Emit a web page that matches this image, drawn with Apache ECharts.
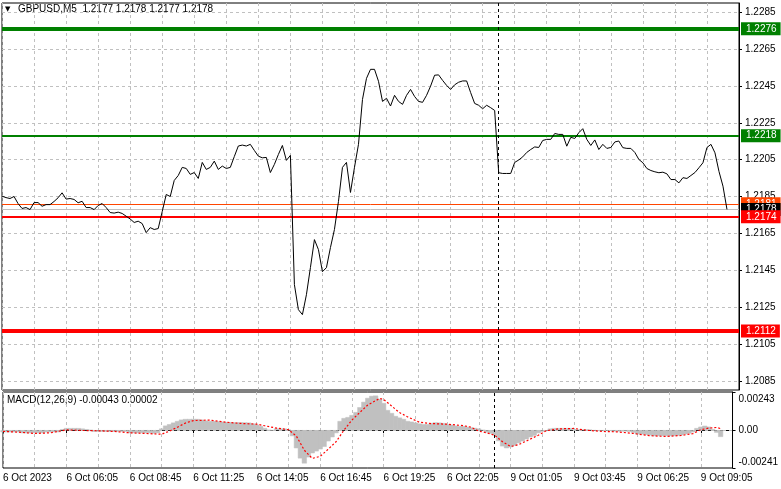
<!DOCTYPE html>
<html>
<head>
<meta charset="utf-8">
<script src="https://cdn.jsdelivr.net/npm/echarts@6/dist/echarts.min.js"></script>
<style>html,body{margin:0;padding:0;background:#fff}#c{width:781px;height:489px}</style>
</head>
<body>
<div id="c"></div>
<script>
// ---------- data ----------
const titleText = 'GBPUSD,M5  1.2177 1.2178 1.2177 1.2178';
const macdText = 'MACD(12,26,9) -0.00043 0.00002';
// time labels (every 32 five-minute bars = every 16 ten-minute categories)
const xLabels = ['6 Oct 2023','6 Oct 06:05','6 Oct 08:45','6 Oct 11:25','6 Oct 14:05','6 Oct 16:45',
  '6 Oct 19:25','6 Oct 22:05','9 Oct 01:05','9 Oct 03:45','9 Oct 06:25','9 Oct 09:05'];
const priceTicks = [1.2085,1.2105,1.2125,1.2145,1.2165,1.2185,1.2205,1.2225,1.2245,1.2265,1.2285];
const macdTicks = [0.00243, 0, -0.00241];
// close prices, one every 10 minutes
const closes = [
1.21852,1.21844,1.21839,1.21850,1.21812,1.21785,1.21790,1.21779,1.21817,1.21817,
1.21797,1.21806,1.21806,1.21823,1.21843,1.21870,1.21836,1.21839,1.21834,1.21816,
1.21824,1.21790,1.21790,1.21779,1.21801,1.21812,1.21790,1.21763,1.21760,1.21765,
1.21758,1.21743,1.21728,1.21709,1.21716,1.21703,1.21654,1.21681,1.21671,1.21676,
1.21768,1.21861,1.21850,1.21937,1.21964,1.22008,1.22002,1.21970,1.21980,1.21948,
1.22035,1.21997,1.22008,1.22042,1.21997,1.22015,1.22002,1.22008,1.22067,1.22124,
1.22129,1.22124,1.22133,1.22100,1.22069,1.22060,1.22062,1.21980,1.22024,1.22078,
1.22127,1.22046,1.22073,1.21372,1.21236,1.21209,1.21317,1.21464,1.21616,1.21562,
1.21442,1.21464,1.21573,1.21671,1.21823,1.22008,1.22035,1.21872,1.22008,1.22133,
1.22377,1.22491,1.22540,1.22540,1.22475,1.22366,1.22383,1.22341,1.22399,1.22366,
1.22350,1.22399,1.22431,1.22393,1.22366,1.22361,1.22399,1.22449,1.22508,1.22510,
1.22480,1.22453,1.22431,1.22456,1.22470,1.22477,1.22477,1.22414,1.22355,1.22345,
1.22326,1.22345,1.22332,1.22317,1.21979,1.21975,1.21975,1.21975,1.22035,1.22048,
1.22065,1.22089,1.22105,1.22119,1.22116,1.22154,1.22160,1.22160,1.22192,1.22187,
1.22187,1.22123,1.22171,1.22165,1.22196,1.22218,1.22160,1.22127,1.22157,1.22105,
1.22133,1.22111,1.22116,1.22146,1.22151,1.22115,1.22111,1.22111,1.22089,1.22051,
1.22033,1.22002,1.21991,1.21984,1.21979,1.21982,1.21973,1.21942,1.21942,1.21924,
1.21952,1.21948,1.21964,1.21980,1.22006,1.22033,1.22116,1.22133,1.22087,1.21986,
1.21906,1.21780];
// MACD histogram, one every 10 minutes
const macdHist = [
-0.00013,-0.00013,-0.00013,-0.00013,-0.00013,-0.00019,-0.00019,-0.00019,-0.00019,-0.00019,
-0.00019,-0.00013,-0.00013,-0.00013,-0.00013,0.00006,0.00013,0.00013,0.00013,0.00013,
0.0001,0.00006,0,-0.0001,-0.0001,-0.0001,-0.0001,-0.0001,-0.0001,-0.0001,
-0.0001,-0.0001,-0.00019,-0.00019,-0.00019,-0.00019,-0.00019,-0.00019,-0.00022,-0.00019,
0.0001,0.00029,0.00038,0.00048,0.00058,0.00067,0.00071,0.00071,0.00071,0.00071,
0.00067,0.00061,0.00058,0.00058,0.00056,0.00054,0.00051,0.00051,0.00049,0.00049,
0.00049,0.00049,0.00048,0.00042,0.00035,0.00026,0.00013,0,-0.00003,0.00011,
0.0001,0.0001,0.00003,-0.00038,-0.00115,-0.0018,-0.00212,-0.00173,-0.00147,-0.00135,
-0.00122,-0.00106,-0.00071,-0.00045,-0.00019,0.00058,0.00077,0.00083,0.00096,0.00115,
0.00146,0.0018,0.00205,0.00218,0.0022,0.00199,0.00173,0.00128,0.00109,0.0009,
0.0008,0.00071,0.00058,0.00054,0.00048,0.00042,0.00038,0.00038,0.00045,0.00049,
0.00048,0.00045,0.00038,0.00035,0.00029,0.00026,0.00026,0.00021,0.00017,0.00014,
0.0001,0,-0.00015,-0.00022,-0.00032,-0.00069,-0.00103,-0.00115,-0.00109,-0.00099,
-0.00083,-0.00071,-0.00058,-0.00045,-0.00035,-0.00019,-0.0001,-0.00004,0.0001,0.00013,
0.00013,0.00013,0.00013,0.00013,0.00006,0.00004,0.00004,0.00004,0.00003,-0.00003,
-0.00004,-0.00004,-0.00004,-0.00004,-0.00008,-0.00008,-0.00008,-0.00008,-0.0001,-0.00016,
-0.00026,-0.00026,-0.00029,-0.00032,-0.00037,-0.00037,-0.00037,-0.00037,-0.00037,-0.00037,
-0.00035,-0.00032,-0.00026,-0.00021,-0.00013,0.00013,0.00022,0.00028,0.00022,0.00006,
-0.00016,-0.00043];
// MACD signal line (category index, value)
const signalIdx = [0,4,8,12,16,20,24,28,32,36,40,42,44,46,48,52,56,60,64,66,69,72,74,76,78,80,82,84,86,88,
  90,92,95,96,98,100,102,105,108,112,116,118,120,122,124,126,128,130,132,135,137,140,144,147,151,155,159,163,
  167,171,174,176,178,180,181];
const signalVals = [-0.00008,-0.00013,-0.00021,-0.00017,0.00002,-0.00002,-0.00004,-0.00008,-0.00017,-0.00021,
  -0.00026,-0.00006,0.00019,0.00045,0.00061,0.00064,0.00051,0.00043,0.00038,0.00028,0.00013,0.00003,-0.00038,
  -0.00128,-0.0018,-0.00167,-0.00122,-0.00074,0,0.00064,0.00113,0.0016,0.00202,0.00196,0.00154,0.00112,0.00085,
  0.00051,0.00042,0.00038,0.00029,0.00019,-0.00006,-0.00017,-0.00032,-0.00074,-0.00104,-0.00093,-0.00069,
  -0.00032,-0.00004,0.00008,0.00011,0,-0.00008,-0.00011,-0.00021,-0.00035,-0.0004,-0.00034,-0.00022,0.00003,
  0.00013,0.00017,0.0001];
// horizontal price levels
const levelValues = [1.2112, 1.2276, 1.2218, 1.2181, 1.2178, 1.2174];
const separatorIndex = 124; // weekend gap marker

// ---------- styles ----------
const levelColors = ['#ff0000','#008000','#008000','#ff4500','#c0c0c0','#ff0000'];
const levelLabelBg = ['#ff0000','#008000','#008000','#ff4500','#000000','#ff0000'];
const levelWidths = [4, 4, 2, 1, 1, 2];
const FONT = 'Liberation Sans';
const GRID_DASH = {color:'#c0c0c0', type:[3,3], width:1};
const N = 185;
const cats = Array.from({length: N}, (_, i) => String(i));

const chart = echarts.init(document.getElementById('c'), null, {renderer:'canvas'});

const levelLines = levelValues.map((v, i) => ({
  yAxis: v,
  lineStyle: {color: levelColors[i], width: levelWidths[i], type: 'solid'},
  label: {
    show: true, position: 'end', distance: 2,
    formatter: () => v.toFixed(4),
    backgroundColor: levelLabelBg[i], color: '#fff',
    fontFamily: FONT, fontSize: 10, lineHeight: 12,
    padding: [1, 4, 0, 5]
  }
}));
const sepLine = {xAxis: separatorIndex, lineStyle:{color:'#000', type:[3,3], width:1}, label:{show:false}};

chart.setOption({
  animation: false,
  backgroundColor: '#fff',
  textStyle: {fontFamily: FONT},
  grid: [
    {left: 2, right: 42, top: 3, height: 387, show: true, borderColor: '#000', borderWidth: 1, backgroundColor:'#fff'},
    {left: 2, right: 42, top: 392, height: 76, show: true, borderColor: '#000', borderWidth: 1, backgroundColor:'#fff'}
  ],
  xAxis: [
    {type:'category', gridIndex:0, data:cats, boundaryGap:false,
     axisLine:{show:false}, axisTick:{show:false}, axisLabel:{show:false},
     splitLine:{show:true, interval:7, lineStyle:GRID_DASH}},
    {type:'category', gridIndex:1, data:cats, boundaryGap:false,
     axisLine:{show:true, lineStyle:{color:'#000'}},
     axisTick:{show:true, interval:15, length:3, lineStyle:{color:'#000'}},
     axisLabel:{show:true, interval:15, align:'left', margin:5, color:'#000', fontFamily:FONT, fontSize:10,
       formatter:(v, idx) => (idx % 16 === 0 ? (xLabels[idx/16] || '') : '')},
     splitLine:{show:true, interval:7, lineStyle:GRID_DASH}}
  ],
  yAxis: [
    {type:'value', gridIndex:0, position:'right', min:1.2080, max:1.2290, scale:true,
     axisLine:{show:true, lineStyle:{color:'#000'}},
     axisTick:{show:true, length:3, lineStyle:{color:'#000'}, customValues: priceTicks},
     axisLabel:{show:true, margin:6, color:'#000', fontFamily:FONT, fontSize:10,
       customValues: priceTicks, formatter: v => v.toFixed(4)},
     splitLine:{show:true, lineStyle:GRID_DASH}},
    {type:'value', gridIndex:1, position:'right', min:-0.00241, max:0.00243,
     axisLine:{show:true, lineStyle:{color:'#000'}},
     axisTick:{show:true, length:3, lineStyle:{color:'#000'}, customValues: macdTicks},
     axisLabel:{show:true, margin:6, color:'#000', fontFamily:FONT, fontSize:10,
       customValues: macdTicks,
       formatter: v => {
         if (v === 0) return '0.00';
         if (v > 0) return '{t|' + v.toFixed(5) + '}';
         return '{b|' + v.toFixed(5) + '}';
       },
       rich:{t:{padding:[14,0,0,0], fontFamily:FONT, fontSize:10, color:'#000'},
             b:{padding:[0,0,12,0], fontFamily:FONT, fontSize:10, color:'#000'}}},
     splitLine:{show:false}}
  ],
  series: [
    {type:'line', xAxisIndex:0, yAxisIndex:0, data: closes, showSymbol:false, symbol:'none',
     lineStyle:{color:'#000', width:1}, z:5,
     markLine:{silent:true, symbol:['none','none'], precision:5, animation:false,
       data: levelLines.concat([sepLine])}},
    {type:'bar', xAxisIndex:1, yAxisIndex:1, data: macdHist, barWidth:5, barCategoryGap:'0%',
     itemStyle:{color:'#c0c0c0', borderColor:'#c0c0c0', borderWidth:0.5}, z:3,
     markLine:{silent:true, symbol:['none','none'], animation:false,
       data:[{yAxis:0, lineStyle:{color:'#c0c0c0', type:[3,3], width:1}, label:{show:false}}, sepLine]}},
    {type:'line', xAxisIndex:1, yAxisIndex:1, data: signalIdx.map((x, i) => [x, signalVals[i]]),
     showSymbol:false, symbol:'none', lineStyle:{color:'#ff0000', width:1.2, type:[2,2]}, z:6}
  ],
  graphic: [
    {type:'text', left:5, top:6, style:{text:'▼', font:'7px DejaVu Sans', fill:'#000'}},
    {type:'text', left:18, top:4, style:{text:titleText, font:'10px ' + FONT, fill:'#000'}},
    {type:'text', left:7, top:395, style:{text:macdText, font:'10px ' + FONT, fill:'#000'}}
  ]
});
</script>
</body>
</html>
